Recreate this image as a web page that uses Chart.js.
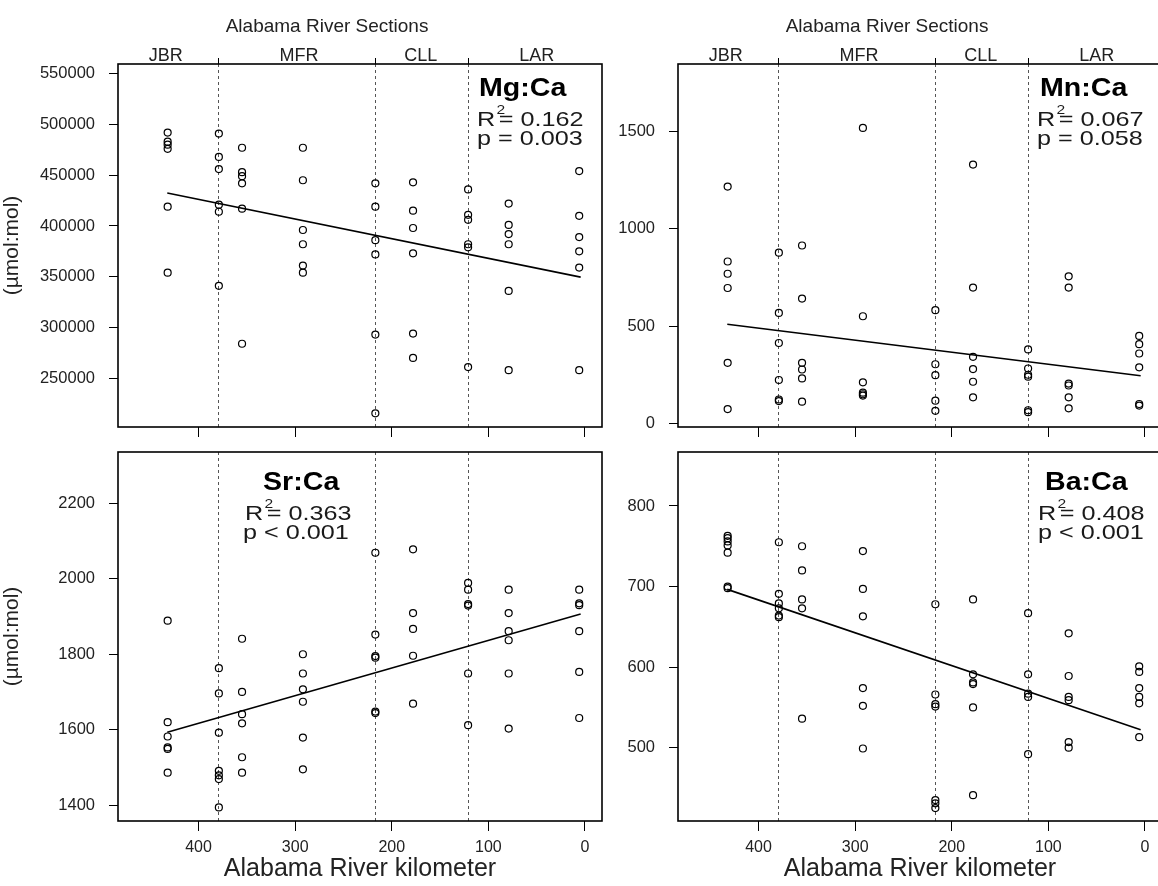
<!DOCTYPE html>
<html><head><meta charset="utf-8">
<script src="https://cdn.jsdelivr.net/npm/chart.js@4.4.1/dist/chart.umd.min.js"></script>
<style>
html,body{margin:0;padding:0;background:#fff;overflow:hidden;width:1158px;height:886px;}
canvas{position:absolute;top:0;}
</style></head><body>
<canvas id="c1" width="620" height="886" style="left:0px;width:620px;height:886px"></canvas>
<canvas id="c2" width="620" height="886" style="left:560px;width:620px;height:886px"></canvas>
<canvas id="c3" width="620" height="886" style="left:0px;width:620px;height:886px"></canvas>
<canvas id="c4" width="620" height="886" style="left:560px;width:620px;height:886px"></canvas>
<script>
const FONT = '"Liberation Sans", Arial, Helvetica, sans-serif';

// River kilometre axis
const xRange = [-17.6, 483.4];
const xTicks = [0, 100, 200, 300, 400];
const sectionNames = ['JBR', 'MFR', 'CLL', 'LAR'];
const sectionCenters = [434, 296, 170, 50];
const sectionBounds = [379.5, 217, 121];
const fitSpan = [432.4, 4.5];

// sampling sites (river km)
const siteKm = [432, 379, 355, 292, 217, 178, 121, 79, 6];

// element:Ca ratios (umol:mol), one list per site
const mgCa = [
  [492000, 483000, 480000, 476000, 419000, 354000],
  [491000, 468000, 456000, 421000, 414000, 341000],
  [477000, 453000, 449000, 442000, 417000, 284000],
  [477000, 445000, 396000, 382000, 361000, 354000],
  [442000, 419000, 386000, 372000, 293000, 215500],
  [443000, 415000, 398000, 373000, 294000, 270000],
  [436000, 411000, 406000, 382000, 379000, 261000],
  [422000, 401000, 392000, 382000, 336000, 258000],
  [454000, 410000, 389000, 375000, 359000, 258000]
];
const mnCa = [
  [1215, 831, 768, 695, 311, 74],
  [876, 567, 413, 223, 123, 115],
  [913, 641, 311, 277, 231, 112],
  [1516, 550, 211, 158, 150, 143],
  [581, 304, 248, 117, 65],
  [1328, 697, 342, 279, 214, 134],
  [380, 282, 250, 240, 68, 58],
  [755, 697, 205, 195, 134, 78],
  [449, 407, 359, 288, 100, 92]
];
const srCa = [
  [1889, 1620, 1582, 1553, 1549, 1486],
  [1763, 1696, 1592, 1491, 1479, 1469, 1394],
  [1841, 1700, 1641, 1617, 1527, 1486],
  [1800, 1749, 1707, 1674, 1579, 1495],
  [2069, 1852, 1795, 1791, 1648, 1644],
  [2078, 1909, 1867, 1796, 1669],
  [1989, 1971, 1933, 1929, 1749, 1612],
  [1971, 1909, 1861, 1837, 1749, 1603],
  [1971, 1935, 1930, 1861, 1753, 1631]
];
const baCa = [
  [763, 760, 756, 751, 742, 700, 698],
  [755, 691, 679, 673, 664, 662],
  [750, 720, 684, 673, 536],
  [744, 697, 663, 574, 552, 499],
  [678, 566, 554, 551, 435, 431, 425],
  [684, 591, 581, 579, 550, 441],
  [667, 591, 567, 563, 492],
  [642, 589, 563, 559, 507, 500],
  [601, 594, 574, 563, 555, 513]
];

// linear fits [intercept, slope per km]
const mgFit = [348730, 193.7];
const mnFit = [242, 0.618];
const srFit = [1910, -0.7325];
const baFit = [520.5, 0.407];

// y axes
const mgRange = [202000, 559500];
const mgTicks = [250000, 300000, 350000, 400000, 450000, 500000, 550000];
const mnRange = [-18, 1844];
const mnTicks = [0, 500, 1000, 1500];
const srRange = [1358, 2336];
const srTicks = [1400, 1600, 1800, 2000, 2200];
const baRange = [409, 867];
const baTicks = [500, 600, 700, 800];

// statistics labels
const panelNames = ['Mg:Ca', 'Mn:Ca', 'Sr:Ca', 'Ba:Ca'];
const r2Values = ['0.162', '0.067', '0.363', '0.408'];
const pValues = ['p = 0.003', 'p = 0.058', 'p < 0.001', 'p < 0.001'];

function drawStats(ctx, o) {
  ctx.save();
  ctx.textBaseline = 'middle';
  ctx.textAlign = 'left';
  ctx.save();
  ctx.translate(o.nameX, o.nameY);
  ctx.scale(1.1, 1);
  ctx.fillStyle = '#000';
  ctx.font = 'bold 26px ' + FONT;
  ctx.fillText(o.name, 0, 0);
  ctx.restore();
  ctx.save();
  ctx.translate(o.statX, o.nameY + 31);
  ctx.scale(1.2, 1);
  ctx.fillStyle = '#1a1a1a';
  ctx.font = '21px ' + FONT;
  ctx.fillText('R', 0, 0);
  const wR = ctx.measureText('R').width;
  ctx.font = '13px ' + FONT;
  ctx.fillText('2', wR + 1, -10);
  ctx.font = '21px ' + FONT;
  ctx.fillText('= ' + o.r2, wR + 3, 0);
  ctx.restore();
  ctx.save();
  ctx.translate(o.pX, o.nameY + 50);
  ctx.scale(1.2, 1);
  ctx.fillStyle = '#1a1a1a';
  ctx.font = '21px ' + FONT;
  ctx.fillText(o.p, 0, 0);
  ctx.restore();
  ctx.restore();
}

function makePanel(id, o) {
  const points = [];
  siteKm.forEach((k, i) => o.vals[i].forEach(v => points.push({x: k, y: v})));
  const fitLine = fitSpan.map(k => ({x: k, y: o.fit[0] + o.fit[1] * k}));

  const decor = {
    id: 'decor' + id,
    beforeDatasetsDraw(chart) {
      const {ctx, chartArea: a, scales: {x}} = chart;
      ctx.save();
      ctx.strokeStyle = '#555';
      ctx.lineWidth = 1;
      ctx.setLineDash([3, 3]);
      sectionBounds.forEach(b => {
        const px = Math.round(x.getPixelForValue(b)) + 0.5;
        ctx.beginPath(); ctx.moveTo(px, a.top); ctx.lineTo(px, a.bottom); ctx.stroke();
      });
      ctx.restore();
    },
    afterDatasetsDraw(chart) {
      const {ctx, chartArea: a, scales: {x}} = chart;
      ctx.save();
      ctx.strokeStyle = '#000';
      ctx.lineWidth = 1.6;
      ctx.strokeRect(a.left, a.top, a.right - a.left, a.bottom - a.top);
      if (o.top) {
        ctx.lineWidth = 1;
        sectionBounds.forEach(b => {
          const px = Math.round(x.getPixelForValue(b)) + 0.5;
          ctx.beginPath(); ctx.moveTo(px, a.top); ctx.lineTo(px, a.top - 6); ctx.stroke();
        });
        ctx.fillStyle = '#222';
        ctx.textAlign = 'center';
        ctx.textBaseline = 'middle';
        ctx.font = '18px ' + FONT;
        sectionNames.forEach((n, i) => ctx.fillText(n, x.getPixelForValue(sectionCenters[i]), a.top - 8));
        ctx.font = '19px ' + FONT;
        ctx.fillText('Alabama River Sections', x.getPixelForValue(267), 27);
      }
      ctx.restore();
      drawStats(ctx, o);
    }
  };

  const chartTop = o.top ? 64 : 452;
  const xAxisH = o.top ? 16 : 65;
  const padBottom = o.top ? 886 - 427 - 16 : 0;

  new Chart(document.getElementById(id).getContext('2d'), {
    type: 'scatter',
    data: {
      datasets: [
        {data: points, pointRadius: 3.5, pointHoverRadius: 3.5, pointBorderWidth: 1.2,
         borderColor: '#000', backgroundColor: 'rgba(0,0,0,0)', pointBackgroundColor: 'rgba(0,0,0,0)'},
        {data: fitLine, showLine: true, pointRadius: 0, borderColor: '#000', borderWidth: 1.6, fill: false}
      ]
    },
    options: {
      responsive: false, animation: false, devicePixelRatio: 1, events: [],
      layout: {padding: {left: 0, right: 18, top: chartTop, bottom: padBottom}},
      plugins: {legend: {display: false}, tooltip: {enabled: false}},
      scales: {
        x: {
          type: 'linear', reverse: true, min: xRange[0], max: xRange[1], position: 'bottom',
          afterBuildTicks: s => { s.ticks = xTicks.map(v => ({value: v})); },
          afterFit: s => { s.height = xAxisH; },
          grid: {display: true, drawOnChartArea: false, drawTicks: true, tickLength: 10, color: '#000', lineWidth: 1},
          border: {display: false},
          ticks: {display: !o.top, font: {family: FONT, size: 16}, color: '#222', padding: 7, maxRotation: 0},
          title: {display: !o.top, text: 'Alabama River kilometer', font: {family: FONT, size: 25}, color: '#222',
                  padding: {top: 0, bottom: 2}}
        },
        y: {
          type: 'linear', min: o.range[0], max: o.range[1], position: 'left',
          afterBuildTicks: s => { s.ticks = o.ticks.map(v => ({value: v})); },
          afterFit: s => { s.width = 118; },
          grid: {display: true, drawOnChartArea: false, drawTicks: true, tickLength: 9, color: '#000', lineWidth: 1},
          border: {display: false},
          ticks: {font: {family: FONT, size: 16.5}, color: '#222', padding: 14, callback: v => String(v)},
          title: {display: o.left, text: '(µmol:mol)', font: {family: FONT, size: 21}, color: '#222',
                  padding: {top: 0, bottom: 0}}
        }
      }
    },
    plugins: [decor]
  });
}

makePanel('c1', {top: true, left: true, vals: mgCa, fit: mgFit, range: mgRange, ticks: mgTicks,
  name: panelNames[0], r2: r2Values[0], p: pValues[0], nameX: 479, nameY: 89, statX: 477, pX: 477});
makePanel('c2', {top: true, left: false, vals: mnCa, fit: mnFit, range: mnRange, ticks: mnTicks,
  name: panelNames[1], r2: r2Values[1], p: pValues[1], nameX: 480, nameY: 89, statX: 477, pX: 477});
makePanel('c3', {top: false, left: true, vals: srCa, fit: srFit, range: srRange, ticks: srTicks,
  name: panelNames[2], r2: r2Values[2], p: pValues[2], nameX: 263, nameY: 483, statX: 245, pX: 243});
makePanel('c4', {top: false, left: false, vals: baCa, fit: baFit, range: baRange, ticks: baTicks,
  name: panelNames[3], r2: r2Values[3], p: pValues[3], nameX: 485, nameY: 483, statX: 478, pX: 478});
</script>
</body></html>
